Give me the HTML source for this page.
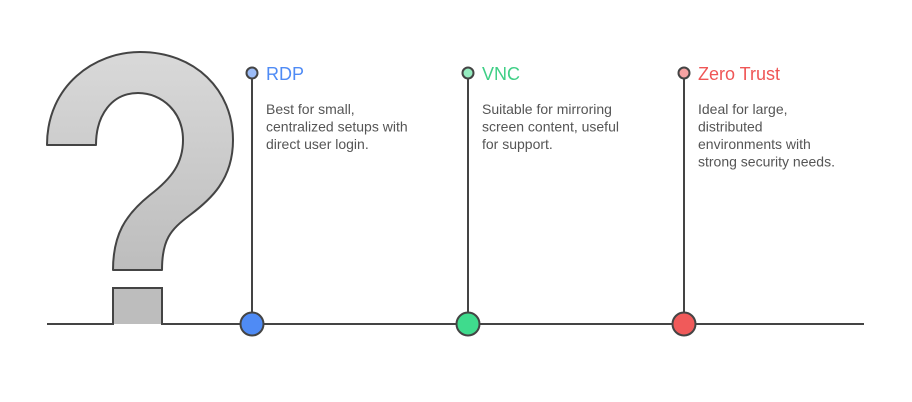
<!DOCTYPE html>
<html><head><meta charset="utf-8"><style>
html,body{margin:0;padding:0;background:#fff;width:912px;height:402px;overflow:hidden}
text{font-family:"Liberation Sans",sans-serif}
</style></head><body>
<svg width="912" height="402" viewBox="0 0 912 402" xmlns="http://www.w3.org/2000/svg">
<defs><linearGradient id="g" x1="0" y1="0" x2="0" y2="1">
<stop offset="0" stop-color="#d9d9d9"/><stop offset="1" stop-color="#bdbdbd"/></linearGradient></defs>
<line x1="47" y1="324" x2="113" y2="324" stroke="#444" stroke-width="2"/>
<line x1="162" y1="324" x2="864" y2="324" stroke="#444" stroke-width="2"/>
<path d="M47,145 C47,85 95,52 140,52 C195,52 233,90 233,140 C233,180 210,200 190,215 C170,230 162,240 162,270 L113,270 C113,235 125,215 150,195 C172,178 183,163 183,140 C183,112 162,93 138,93 C112,93 96,115 96,145 Z" fill="url(#g)" stroke="#444" stroke-width="2" stroke-linejoin="round"/>
<rect x="113" y="288" width="49" height="36" fill="#bdbdbd"/>
<path d="M113,325 L113,288 L162,288 L162,325" fill="none" stroke="#444" stroke-width="2"/>
<g stroke="#444" stroke-width="2">
<line x1="252" y1="73" x2="252" y2="324"/>
<line x1="468" y1="73" x2="468" y2="324"/>
<line x1="684" y1="73" x2="684" y2="324"/>
<circle cx="252" cy="73" r="5.5" fill="#9cbcf7"/>
<circle cx="468" cy="73" r="5.5" fill="#96ecc0"/>
<circle cx="684" cy="73" r="5.5" fill="#f7a3a3"/>
<circle cx="252" cy="324" r="11.5" fill="#4f8bf5"/>
<circle cx="468" cy="324" r="11.5" fill="#3fdb8d"/>
<circle cx="684" cy="324" r="11.5" fill="#f05a5a"/>
</g>
<g font-size="18">
<text x="266" y="80" fill="#4f8bf5">RDP</text>
<text x="482" y="80" fill="#3fcf86">VNC</text>
<text x="698" y="80" fill="#ef5656">Zero Trust</text>
</g>
<g font-size="14" fill="#555">
<text x="266" y="114">Best for small,</text>
<text x="266" y="131.5">centralized setups with</text>
<text x="266" y="149">direct user login.</text>
<text x="482" y="114">Suitable for mirroring</text>
<text x="482" y="131.5">screen content, useful</text>
<text x="482" y="149">for support.</text>
<text x="698" y="114">Ideal for large,</text>
<text x="698" y="131.5">distributed</text>
<text x="698" y="149">environments with</text>
<text x="698" y="166.5">strong security needs.</text>
</g>
</svg>
</body></html>
